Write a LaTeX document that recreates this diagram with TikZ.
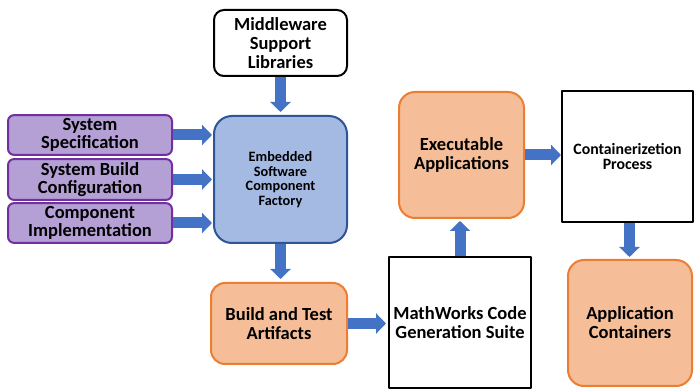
\documentclass[tikz,border=0pt]{standalone}
\usepackage{fontspec}
\setmainfont{Carlito}
\usepackage{tikz}
\usetikzlibrary{arrows.meta,positioning}
\definecolor{flowblue}{HTML}{4472C4}
\definecolor{inpurple}{HTML}{B4A0D4}
\definecolor{inpurpleline}{HTML}{7030A0}
\definecolor{factblue}{HTML}{A4BAE2}
\definecolor{factline}{HTML}{2F5597}
\definecolor{outorange}{HTML}{F5BE98}
\definecolor{outline}{HTML}{ED7D31}

\begin{document}
\begin{tikzpicture}[x=1pt,y=1pt,line join=round,
  font=\bfseries,
  inbox/.style={draw=inpurpleline,fill=inpurple,line width=2pt,rounded corners=6pt,
    minimum width=164pt,minimum height=39pt,align=center,
    font=\bfseries\fontsize{18.5}{18}\selectfont},
  libbox/.style={draw=black,fill=white,line width=2pt,rounded corners=10pt,
    minimum width=133pt,minimum height=66pt,align=center,
    font=\bfseries\fontsize{18.5}{19}\selectfont},
  factbox/.style={draw=factline,fill=factblue,line width=2pt,rounded corners=18pt,
    minimum width=133pt,minimum height=127pt,align=center,
    font=\bfseries\fontsize{14.3}{14.5}\selectfont},
  outbox/.style={draw=outline,fill=outorange,line width=2pt,rounded corners=16pt,
    align=center,font=\bfseries\fontsize{18.5}{19}\selectfont},
  procbox/.style={draw=black,fill=white,line width=2pt,align=center},
  flow/.style={draw=flowblue,line width=11pt,
    -{Triangle[length=10pt,width=20pt]}}]
\path[use as bounding box] (0,0) rectangle (694,391);
\fill[white] (0,0) rectangle (694,391);

% inputs of the factory
\node[libbox] (lib) at (280.5,348) {Middleware\\Support\\Libraries};
\node[inbox] (spec) at (90,256) {System\\Specification};
\node[inbox] (conf) at (90,211.5) {System Build\\Configuration};
\node[inbox] (impl) at (90,168) {Component\\Implementation};
\node[factbox] (fact) at (280.5,211.5) {Embedded\\Software\\Component\\Factory};

% build chain
\node[outbox,minimum width=136pt,minimum height=81pt,rounded corners=14pt] (art) at (279,67.5) {Build and Test\\Artifacts};
\node[procbox,minimum width=142pt,minimum height=131pt,
  font=\bfseries\fontsize{18.5}{19}\selectfont] (gen) at (460,68.5) {MathWorks Code\\Generation Suite};
\node[outbox,minimum width=125pt,minimum height=126pt] (exe) at (461.5,236) {Executable\\Applications};
\node[procbox,minimum width=131pt,minimum height=131pt,
  font=\bfseries\fontsize{15.8}{15}\selectfont] (cont) at (627.5,234.5) {Containerizetion\\Process};
\node[outbox,minimum width=124pt,minimum height=126pt] (box) at (630,68) {Application\\Containers};

\foreach \n in {spec,conf,impl}
  \draw[flow,shorten >=1pt] (\n.east) -- (\n.east -| fact.west);
\draw[flow,shorten >=3pt] (lib.south) -- (lib.south |- fact.north);
\draw[flow,shorten >=3pt] (fact.south) -- (fact.south |- art.north);
\draw[flow,shorten >=2pt] (art.east) -- (art.east -| gen.west);
\draw[flow,shorten >=2pt] (gen.north) -- (gen.north |- exe.south);
\draw[flow] (exe.east) -- (exe.east -| cont.west);
\draw[flow,shorten >=2pt] ([xshift=2pt]cont.south) -- ([xshift=2pt]cont.south |- box.north);
\end{tikzpicture}
\end{document}
